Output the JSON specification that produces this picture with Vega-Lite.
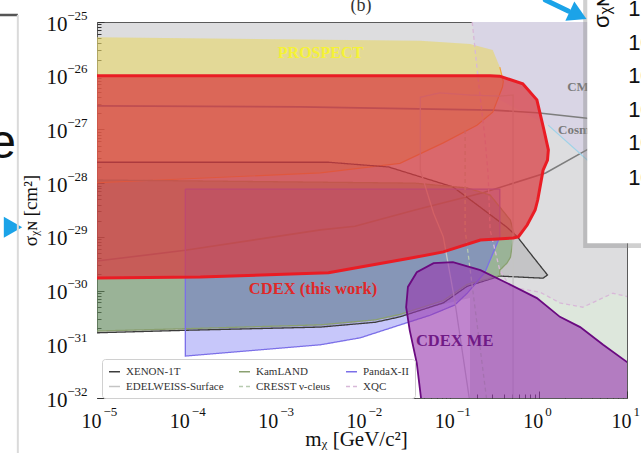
{
"$schema": "https://vega.github.io/schema/vega-lite/v6.json",
"width": 530, "height": 376,
"autosize": {"type": "none"},
"padding": {"left": 97, "top": 22, "right": 14, "bottom": 55},
"background": "white",
"config": {"view": {"fill": "#dddddf", "stroke": "#5a5a5a", "strokeWidth": 1}, "axis": {"grid": false, "domain": false}, "font": "Liberation Serif"},
"resolve": {"axis": {"x": "independent", "y": "independent"}},
"data": {"values": [
{"g":"lav","i":0,"x":0.177,"y":1.2e-25},{"g":"lav","i":1,"x":12,"y":1.2e-25},{"g":"lav","i":2,"x":12,"y":6.03e-29},{"g":"lav","i":3,"x":3.55,"y":2.69e-28},{"g":"lav","i":4,"x":1.28,"y":1.2e-27},{"g":"lav","i":5,"x":0.363,"y":3.55e-27},{"g":"lav","i":6,"x":0.219,"y":5.37e-27},{"g":"lav","i":7,"x":0.196,"y":1.95e-26},
{"g":"green","i":0,"x":1.04,"y":9.33e-31},{"g":"green","i":1,"x":1.74,"y":5.89e-31},{"g":"green","i":2,"x":3.16,"y":4.9e-31},{"g":"green","i":3,"x":6.92,"y":8.91e-31},{"g":"green","i":4,"x":12,"y":7.24e-31},{"g":"green","i":5,"x":12,"y":8e-33},{"g":"green","i":6,"x":1.04,"y":8e-33},
{"g":"white","i":0,"x":8e-6,"y":1.62e-31},{"g":"white","i":1,"x":1e-4,"y":1.82e-31},{"g":"white","i":2,"x":3.39e-3,"y":2.09e-31},{"g":"white","i":3,"x":2.69e-2,"y":3.24e-31},{"g":"white","i":4,"x":7.59e-2,"y":5.37e-31},{"g":"white","i":5,"x":0.167,"y":7.24e-31},{"g":"white","i":6,"x":0.167,"y":8e-33},{"g":"white","i":7,"x":8e-6,"y":8e-33},
{"g":"PROSPECT","i":0,"x":8e-6,"y":5.25e-26},{"g":"PROSPECT","i":1,"x":4.57e-2,"y":4.47e-26},{"g":"PROSPECT","i":2,"x":0.167,"y":3.89e-26},{"g":"PROSPECT","i":3,"x":0.302,"y":3.02e-26},{"g":"PROSPECT","i":4,"x":0.363,"y":1.45e-26},{"g":"PROSPECT","i":5,"x":0.398,"y":7.76e-27},{"g":"PROSPECT","i":6,"x":0.389,"y":6.17e-27},{"g":"PROSPECT","i":7,"x":0.302,"y":2.09e-27},{"g":"PROSPECT","i":8,"x":0.2,"y":1.2e-27},{"g":"PROSPECT","i":9,"x":8.32e-2,"y":5.62e-28},{"g":"PROSPECT","i":10,"x":2.69e-2,"y":2.34e-28},{"g":"PROSPECT","i":11,"x":3.39e-3,"y":1.55e-28},{"g":"PROSPECT","i":12,"x":8e-6,"y":1e-28},
{"g":"pros_edge","i":0,"x":0.363,"y":1.45e-26},{"g":"pros_edge","i":1,"x":0.398,"y":7.76e-27},{"g":"pros_edge","i":2,"x":0.389,"y":6.17e-27},{"g":"pros_edge","i":3,"x":0.302,"y":2.09e-27},{"g":"pros_edge","i":4,"x":0.2,"y":1.2e-27},{"g":"pros_edge","i":5,"x":8.32e-2,"y":5.62e-28},{"g":"pros_edge","i":6,"x":2.69e-2,"y":2.34e-28},{"g":"pros_edge","i":7,"x":3.39e-3,"y":1.55e-28},{"g":"pros_edge","i":8,"x":8e-6,"y":1e-28},
{"g":"XENON-1T","i":0,"x":8e-6,"y":2.45e-28},{"g":"XENON-1T","i":1,"x":4.17e-3,"y":2.45e-28},{"g":"XENON-1T","i":2,"x":2.0e-2,"y":2.0e-28},{"g":"XENON-1T","i":3,"x":0.107,"y":8.51e-29},{"g":"XENON-1T","i":4,"x":0.219,"y":3.55e-29},{"g":"XENON-1T","i":5,"x":0.437,"y":1.51e-29},{"g":"XENON-1T","i":6,"x":0.575,"y":1e-29},{"g":"XENON-1T","i":7,"x":0.871,"y":4.17e-30},{"g":"XENON-1T","i":8,"x":1.259,"y":1.95e-30},{"g":"XENON-1T","i":9,"x":1.122,"y":1.7e-30},{"g":"XENON-1T","i":10,"x":0.363,"y":1.86e-30},{"g":"XENON-1T","i":11,"x":0.155,"y":1.2e-30},{"g":"XENON-1T","i":12,"x":8.32e-2,"y":5.89e-31},{"g":"XENON-1T","i":13,"x":2.69e-2,"y":3.24e-31},{"g":"XENON-1T","i":14,"x":1.41e-2,"y":2.57e-31},{"g":"XENON-1T","i":15,"x":3.39e-3,"y":2.09e-31},{"g":"XENON-1T","i":16,"x":1e-4,"y":1.82e-31},{"g":"XENON-1T","i":17,"x":8e-6,"y":1.62e-31},{"g":"XENON-1T","i":18,"x":8e-6,"y":2.45e-28},
{"g":"KamLAND","i":0,"x":8e-6,"y":1.15e-28},{"g":"KamLAND","i":1,"x":3.98e-2,"y":1e-28},{"g":"KamLAND","i":2,"x":0.155,"y":8.13e-29},{"g":"KamLAND","i":3,"x":0.282,"y":6.03e-29},{"g":"KamLAND","i":4,"x":0.479,"y":2.04e-29},{"g":"KamLAND","i":5,"x":0.537,"y":1e-29},{"g":"KamLAND","i":6,"x":0.513,"y":8.71e-30},{"g":"KamLAND","i":7,"x":0.479,"y":4.17e-30},{"g":"KamLAND","i":8,"x":0.437,"y":3.24e-30},{"g":"KamLAND","i":9,"x":0.363,"y":2.4e-30},{"g":"KamLAND","i":10,"x":0.363,"y":1.9e-30},{"g":"KamLAND","i":11,"x":0.155,"y":1.3e-30},{"g":"KamLAND","i":12,"x":8.32e-2,"y":6.5e-31},{"g":"KamLAND","i":13,"x":2.69e-2,"y":3.6e-31},{"g":"KamLAND","i":14,"x":1.41e-2,"y":2.85e-31},{"g":"KamLAND","i":15,"x":3.39e-3,"y":2.3e-31},{"g":"KamLAND","i":16,"x":1e-4,"y":1.95e-31},{"g":"KamLAND","i":17,"x":8e-6,"y":1.75e-31},{"g":"KamLAND","i":18,"x":8e-6,"y":1.15e-28},
{"g":"PandaX-II","i":0,"x":1e-4,"y":7.76e-29},{"g":"PandaX-II","i":1,"x":0.363,"y":7.76e-29},{"g":"PandaX-II","i":2,"x":0.363,"y":1e-29},{"g":"PandaX-II","i":3,"x":0.339,"y":7.59e-30},{"g":"PandaX-II","i":4,"x":0.245,"y":2.14e-30},{"g":"PandaX-II","i":5,"x":0.155,"y":8.91e-31},{"g":"PandaX-II","i":6,"x":0.112,"y":5.37e-31},{"g":"PandaX-II","i":7,"x":5.89e-2,"y":3.47e-31},{"g":"PandaX-II","i":8,"x":2.69e-2,"y":2.29e-31},{"g":"PandaX-II","i":9,"x":9.55e-3,"y":1.32e-31},{"g":"PandaX-II","i":10,"x":3.39e-3,"y":9.8e-32},{"g":"PandaX-II","i":11,"x":1e-4,"y":6.03e-32},{"g":"PandaX-II","i":12,"x":1e-4,"y":7.76e-29},
{"g":"EDELWEISS-Surface","i":0,"x":0.167,"y":8e-33},{"g":"EDELWEISS-Surface","i":1,"x":0.112,"y":6.61e-31},{"g":"EDELWEISS-Surface","i":2,"x":8.32e-2,"y":1e-29},{"g":"EDELWEISS-Surface","i":3,"x":6.46e-2,"y":2.75e-29},{"g":"EDELWEISS-Surface","i":4,"x":4.57e-2,"y":1.74e-28},{"g":"EDELWEISS-Surface","i":5,"x":4.57e-2,"y":3.98e-27},{"g":"EDELWEISS-Surface","i":6,"x":7.59e-2,"y":4.79e-27},{"g":"EDELWEISS-Surface","i":7,"x":0.167,"y":4.37e-27},{"g":"EDELWEISS-Surface","i":8,"x":0.363,"y":4.17e-27},{"g":"EDELWEISS-Surface","i":9,"x":0.513,"y":4.37e-27},{"g":"EDELWEISS-Surface","i":10,"x":0.513,"y":8e-33},
{"g":"CRESST ν-cleus","i":0,"x":0.147,"y":9.77e-28},{"g":"CRESST ν-cleus","i":1,"x":0.147,"y":1.35e-29},{"g":"CRESST ν-cleus","i":2,"x":0.261,"y":8e-33},
{"g":"XQC","i":0,"x":0.177,"y":1e-25},{"g":"XQC","i":1,"x":0.207,"y":8.32e-27},{"g":"XQC","i":2,"x":0.248,"y":6.31e-28},{"g":"XQC","i":3,"x":0.268,"y":1.41e-28},{"g":"XQC","i":4,"x":0.282,"y":1.35e-29},{"g":"XQC","i":5,"x":0.363,"y":2.4e-30},{"g":"XQC","i":6,"x":0.479,"y":1.17e-30},{"g":"XQC","i":7,"x":1.04,"y":9.33e-31},{"g":"XQC","i":8,"x":1.74,"y":5.89e-31},{"g":"XQC","i":9,"x":3.16,"y":4.9e-31},{"g":"XQC","i":10,"x":6.92,"y":8.91e-31},{"g":"XQC","i":11,"x":12,"y":7.24e-31},
{"g":"band_top","i":0,"x":8e-6,"y":2.75e-27},{"g":"band_top","i":1,"x":2e-3,"y":2.63e-27},{"g":"band_top","i":2,"x":0.302,"y":2.29e-27},{"g":"band_top","i":3,"x":0.955,"y":2.04e-27},{"g":"band_top","i":4,"x":3.55,"y":1.62e-27},{"g":"band_top","i":5,"x":14,"y":1.45e-27},
{"g":"band_bot","i":0,"x":8e-6,"y":3.39e-30},{"g":"band_bot","i":1,"x":1e-4,"y":5.62e-30},{"g":"band_bot","i":2,"x":3.39e-3,"y":1.35e-29},{"g":"band_bot","i":3,"x":8.32e-3,"y":1.58e-29},{"g":"band_bot","i":4,"x":3.98e-2,"y":3.16e-29},{"g":"band_bot","i":5,"x":0.234,"y":6.61e-29},{"g":"band_bot","i":6,"x":1.2,"y":1.55e-28},{"g":"band_bot","i":7,"x":3.55,"y":4.2e-28},{"g":"band_bot","i":8,"x":14,"y":9.77e-28},
{"g":"cosmic","i":0,"x":1.28,"y":1.2e-27},{"g":"cosmic","i":1,"x":3.55,"y":2.69e-28},{"g":"cosmic","i":2,"x":12,"y":5e-29},
{"g":"CDEX","i":0,"x":8e-6,"y":1e-26},{"g":"CDEX","i":1,"x":2e-3,"y":1e-26},{"g":"CDEX","i":2,"x":0.282,"y":1e-26},{"g":"CDEX","i":3,"x":0.363,"y":9.8e-27},{"g":"CDEX","i":4,"x":0.661,"y":7.08e-27},{"g":"CDEX","i":5,"x":0.955,"y":3.55e-27},{"g":"CDEX","i":6,"x":1.148,"y":9.77e-28},{"g":"CDEX","i":7,"x":1.288,"y":4.17e-28},{"g":"CDEX","i":8,"x":1.259,"y":2.69e-28},{"g":"CDEX","i":9,"x":1.122,"y":1.74e-28},{"g":"CDEX","i":10,"x":0.977,"y":4.9e-29},{"g":"CDEX","i":11,"x":0.912,"y":3.16e-29},{"g":"CDEX","i":12,"x":0.741,"y":1.66e-29},{"g":"CDEX","i":13,"x":0.589,"y":1e-29},{"g":"CDEX","i":14,"x":0.513,"y":9.55e-30},{"g":"CDEX","i":15,"x":0.219,"y":8.71e-30},{"g":"CDEX","i":16,"x":8.32e-2,"y":5.25e-30},{"g":"CDEX","i":17,"x":3.72e-2,"y":4.07e-30},{"g":"CDEX","i":18,"x":4.17e-3,"y":2.14e-30},{"g":"CDEX","i":19,"x":1.48e-4,"y":1.78e-30},{"g":"CDEX","i":20,"x":8e-6,"y":1.7e-30},{"g":"CDEX","i":21,"x":8e-6,"y":1e-26},
{"g":"CDEXME","i":0,"x":4.9e-2,"y":5e-33},{"g":"CDEXME","i":1,"x":4.17e-2,"y":4.47e-32},{"g":"CDEXME","i":2,"x":3.47e-2,"y":1.82e-31},{"g":"CDEXME","i":3,"x":3.16e-2,"y":4.9e-31},{"g":"CDEXME","i":4,"x":3.31e-2,"y":1.17e-30},{"g":"CDEXME","i":5,"x":4.17e-2,"y":2.19e-30},{"g":"CDEXME","i":6,"x":6.46e-2,"y":3.24e-30},{"g":"CDEXME","i":7,"x":0.107,"y":3.39e-30},{"g":"CDEXME","i":8,"x":0.219,"y":2.4e-30},{"g":"CDEXME","i":9,"x":0.437,"y":1.38e-30},{"g":"CDEXME","i":10,"x":0.955,"y":7.24e-31},{"g":"CDEXME","i":11,"x":1.74,"y":3.24e-31},{"g":"CDEXME","i":12,"x":2.95,"y":2.09e-31},{"g":"CDEXME","i":13,"x":5.37,"y":9.77e-32},{"g":"CDEXME","i":14,"x":10,"y":4.68e-32},{"g":"CDEXME","i":15,"x":15,"y":3.5e-32},{"g":"CDEXME","i":16,"x":15,"y":5e-33},{"g":"CDEXME","i":17,"x":4.9e-2,"y":5e-33}
]},
"layer": [
{"transform": [{"filter": "datum.g==='lav'"}],
 "mark": {"type": "line", "fill": "#d9d5e5", "strokeOpacity": 0, "clip": true},
 "encoding": {
  "x": {"field": "x", "type": "quantitative", "scale": {"type": "log", "domain": [1e-5, 10]},
   "axis": {"orient": "bottom", "values": [1e-5,1e-4,1e-3,1e-2,1e-1,1,10], "labelExpr": "'10'", "ticks": false, "domain": false, "labelFont": "Liberation Serif", "labelFontSize": 20, "labelColor": "#111", "labelPadding": 13, "labelOffset": -6, "labelFlush": false, "labelOverlap": false, "title": "mᵪ [GeV/c²]", "titleFont": "Liberation Serif", "titleFontSize": 21, "titleFontWeight": "normal", "titleColor": "#111", "titleBaseline": "alphabetic", "titleY": 47, "titleX": 259}},
  "y": {"field": "y", "type": "quantitative", "scale": {"type": "log", "domain": [1e-32, 1e-25]},
   "axis": {"orient": "left", "values": [1e-32,1e-31,1e-30,1e-29,1e-28,1e-27,1e-26,1e-25], "labelExpr": "'10'", "ticks": false, "domain": false, "labelFont": "Liberation Serif", "labelFontSize": 21, "labelColor": "#111", "labelPadding": 30, "labelOffset": 2, "labelFlush": false, "labelOverlap": false, "title": "σᵪɴ [cm²]", "titleFont": "Liberation Serif", "titleFontSize": 19, "titleFontWeight": "normal", "titleColor": "#111", "titleAngle": 270, "titleAlign": "center", "titleBaseline": "bottom", "titleX": -57, "titleY": 188}},
  "order": {"field": "i", "type": "quantitative"}}},
{"transform": [{"filter": "datum.g==='green'"}],
 "mark": {"type": "line", "fill": "#dde7dc", "strokeOpacity": 0, "clip": true},
 "encoding": {
  "x": {"field": "x", "type": "quantitative", "axis": {"orient": "bottom", "values": [1e-5,1e-4,1e-3,1e-2,1e-1,1,10], "labelExpr": "format(round(log(datum.value)/LN10),'d')", "ticks": false, "domain": false, "labelFont": "Liberation Serif", "labelFontSize": 13, "labelColor": "#111", "labelAlign": "left", "labelPadding": 7, "labelOffset": 6, "labelFlush": false, "labelOverlap": false, "title": null}},
  "y": {"field": "y", "type": "quantitative", "axis": {"orient": "left", "values": [1e-32,1e-31,1e-30,1e-29,1e-28,1e-27,1e-26,1e-25], "labelExpr": "format(round(log(datum.value)/LN10),'d')", "ticks": false, "domain": false, "labelFont": "Liberation Serif", "labelFontSize": 13, "labelColor": "#111", "labelAlign": "right", "labelPadding": 10, "labelOffset": -7, "labelFlush": false, "labelOverlap": false, "title": null}},
  "order": {"field": "i", "type": "quantitative"}}},
{"transform": [{"filter": "datum.g==='white'"}],
 "mark": {"type": "line", "fill": "#ffffff", "strokeOpacity": 0, "clip": true},
 "encoding": {
  "x": {"field": "x", "type": "quantitative", "axis": {"orient": "bottom", "values": [1e-5,1e-4,1e-3,1e-2,1e-1,1,10], "labels": false, "ticks": true, "tickSize": 7, "offset": -7, "tickColor": "#333", "domain": false, "title": null}},
  "y": {"field": "y", "type": "quantitative", "axis": {"orient": "left", "values": [1e-32,1e-31,1e-30,1e-29,1e-28,1e-27,1e-26,1e-25], "labels": false, "ticks": true, "tickSize": 7, "offset": -7, "tickColor": "#333", "domain": false, "title": null}},
  "order": {"field": "i", "type": "quantitative"}}},
{"transform": [{"filter": "datum.g==='PROSPECT'"}],
 "mark": {"type": "line", "fill": "#e6d66a", "fillOpacity": 0.62, "strokeOpacity": 0, "clip": true},
 "encoding": {
  "x": {"field": "x", "type": "quantitative", "axis": {"orient": "bottom", "values": [2e-5,3e-5,4e-5,5e-5,6e-5,7e-5,8e-5,9e-5,2e-4,3e-4,4e-4,5e-4,6e-4,7e-4,8e-4,9e-4,2e-3,3e-3,4e-3,5e-3,6e-3,7e-3,8e-3,9e-3,2e-2,3e-2,4e-2,5e-2,6e-2,7e-2,8e-2,9e-2,0.2,0.3,0.4,0.5,0.6,0.7,0.8,0.9,2,3,4,5,6,7,8,9], "labels": false, "ticks": true, "tickSize": 4, "offset": -4, "tickColor": "#333", "domain": false, "title": null}},
  "y": {"field": "y", "type": "quantitative", "axis": {"orient": "left", "values": [2e-32,3e-32,4e-32,5e-32,6e-32,7e-32,8e-32,9e-32,2e-31,3e-31,4e-31,5e-31,6e-31,7e-31,8e-31,9e-31,2e-30,3e-30,4e-30,5e-30,6e-30,7e-30,8e-30,9e-30,2e-29,3e-29,4e-29,5e-29,6e-29,7e-29,8e-29,9e-29,2e-28,3e-28,4e-28,5e-28,6e-28,7e-28,8e-28,9e-28,2e-27,3e-27,4e-27,5e-27,6e-27,7e-27,8e-27,9e-27,2e-26,3e-26,4e-26,5e-26,6e-26,7e-26,8e-26,9e-26], "labels": false, "ticks": true, "tickSize": 4, "offset": -4, "tickColor": "#333", "domain": false, "title": null}},
  "order": {"field": "i", "type": "quantitative"}}},
{"transform": [{"filter": "datum.g==='XENON-1T'"}],
 "mark": {"type": "line", "fill": "#7a7a7a", "fillOpacity": 0.25, "strokeOpacity": 0, "clip": true},
 "encoding": {"x": {"field": "x", "type": "quantitative", "axis": null}, "y": {"field": "y", "type": "quantitative", "axis": null}, "order": {"field": "i", "type": "quantitative"}}},
{"transform": [{"filter": "datum.g==='KamLAND'"}],
 "mark": {"type": "line", "fill": "#5f9a55", "fillOpacity": 0.42, "strokeOpacity": 0, "clip": true},
 "encoding": {"x": {"field": "x", "type": "quantitative", "axis": null}, "y": {"field": "y", "type": "quantitative", "axis": null}, "order": {"field": "i", "type": "quantitative"}}},
{"transform": [{"filter": "datum.g==='PandaX-II'"}],
 "mark": {"type": "line", "fill": "#6464f0", "fillOpacity": 0.36, "strokeOpacity": 0, "clip": true},
 "encoding": {"x": {"field": "x", "type": "quantitative", "axis": null}, "y": {"field": "y", "type": "quantitative", "axis": null}, "order": {"field": "i", "type": "quantitative"}}},
{"transform": [{"filter": "datum.g==='band_top' || datum.g==='band_bot'"}],
 "mark": {"type": "line", "stroke": "#7d7d7d", "strokeWidth": 1.6, "clip": true},
 "encoding": {"x": {"field": "x", "type": "quantitative", "axis": null}, "y": {"field": "y", "type": "quantitative", "axis": null}, "detail": {"field": "g"}, "order": {"field": "i", "type": "quantitative"}}},
{"transform": [{"filter": "datum.g==='pros_edge'"}],
 "mark": {"type": "line", "stroke": "#f2a33a", "strokeWidth": 1.2, "clip": true},
 "encoding": {"x": {"field": "x", "type": "quantitative", "axis": null}, "y": {"field": "y", "type": "quantitative", "axis": null}, "order": {"field": "i", "type": "quantitative"}}},
{"transform": [{"filter": "datum.g==='cosmic'"}],
 "mark": {"type": "line", "stroke": "#9fd3e8", "strokeWidth": 1.2, "clip": true},
 "encoding": {"x": {"field": "x", "type": "quantitative", "axis": null}, "y": {"field": "y", "type": "quantitative", "axis": null}, "order": {"field": "i", "type": "quantitative"}}},
{"transform": [{"filter": {"field": "g", "oneOf": ["XENON-1T","KamLAND","PandaX-II","EDELWEISS-Surface","CRESST ν-cleus","XQC"]}}],
 "mark": {"type": "line", "strokeWidth": 1.3, "clip": true},
 "encoding": {
  "x": {"field": "x", "type": "quantitative", "axis": null},
  "y": {"field": "y", "type": "quantitative", "axis": null},
  "color": {"field": "g", "type": "nominal", "scale": {"domain": ["XENON-1T","KamLAND","PandaX-II","EDELWEISS-Surface","CRESST ν-cleus","XQC"], "range": ["#3c3c3c","#8aa070","#7b6fe8","#c4c4c4","#b7cbb0","#d8b8d8"]},
   "legend": {"title": null, "orient": "none", "legendX": 5, "legendY": 337, "columns": 3, "direction": "horizontal", "symbolType": "stroke", "symbolSize": 120, "symbolStrokeWidth": 1.5, "labelFont": "Liberation Serif", "labelFontSize": 11, "labelColor": "#333", "fillColor": "rgba(255,255,255,0.82)", "strokeColor": "#d0d0d0", "padding": 6, "cornerRadius": 3, "rowPadding": 3, "columnPadding": 12, "labelOffset": 5, "labelLimit": 200}},
  "strokeDash": {"field": "g", "type": "nominal", "scale": {"domain": ["XENON-1T","KamLAND","PandaX-II","EDELWEISS-Surface","CRESST ν-cleus","XQC"], "range": [[1,0],[1,0],[1,0],[1,0],[4,3],[4,3]]},
   "legend": {"title": null, "orient": "none", "legendX": 5, "legendY": 337, "columns": 3, "direction": "horizontal", "symbolType": "stroke", "symbolSize": 120, "symbolStrokeWidth": 1.5, "labelFont": "Liberation Serif", "labelFontSize": 11, "labelColor": "#333", "fillColor": "rgba(255,255,255,0.82)", "strokeColor": "#d0d0d0", "padding": 6, "cornerRadius": 3, "rowPadding": 3, "columnPadding": 12, "labelOffset": 5, "labelLimit": 200}},
  "order": {"field": "i", "type": "quantitative"}}},
{"transform": [{"filter": "datum.g==='CDEX'"}],
 "mark": {"type": "line", "fill": "#d83a40", "fillOpacity": 0.72, "stroke": "#ea1c24", "strokeWidth": 3, "clip": true},
 "encoding": {"x": {"field": "x", "type": "quantitative", "axis": null}, "y": {"field": "y", "type": "quantitative", "axis": null}, "order": {"field": "i", "type": "quantitative"}}},
{"transform": [{"filter": "datum.g==='CDEXME'"}],
 "mark": {"type": "line", "fill": "#9a3ab0", "fillOpacity": 0.62, "stroke": "#6a0a80", "strokeWidth": 1.8, "clip": true},
 "encoding": {"x": {"field": "x", "type": "quantitative", "axis": null}, "y": {"field": "y", "type": "quantitative", "axis": null}, "order": {"field": "i", "type": "quantitative"}}},
{"data": {"values": [{"x": 3.39e-3, "y": 2.63e-26, "t": "PROSPECT"}]},
 "mark": {"type": "text", "font": "Liberation Serif", "fontWeight": "bold", "fontSize": 16, "color": "#f5f236", "align": "center", "baseline": "middle"},
 "encoding": {"x": {"field": "x", "type": "quantitative", "axis": null}, "y": {"field": "y", "type": "quantitative", "axis": null}, "text": {"field": "t"}}},
{"data": {"values": [{"x": 2.79e-3, "y": 1.07e-30, "t": "CDEX (this work)"}]},
 "mark": {"type": "text", "font": "Liberation Serif", "fontWeight": "bold", "fontSize": 16.5, "color": "#e02828", "align": "center", "baseline": "middle"},
 "encoding": {"x": {"field": "x", "type": "quantitative", "axis": null}, "y": {"field": "y", "type": "quantitative", "axis": null}, "text": {"field": "t"}}},
{"data": {"values": [{"x": 0.112, "y": 1.15e-31, "t": "CDEX ME"}]},
 "mark": {"type": "text", "font": "Liberation Serif", "fontWeight": "bold", "fontSize": 16.5, "color": "#701a86", "align": "center", "baseline": "middle"},
 "encoding": {"x": {"field": "x", "type": "quantitative", "axis": null}, "y": {"field": "y", "type": "quantitative", "axis": null}, "text": {"field": "t"}}},
{"data": {"values": [{"x": 2.1, "y": 6.17e-27, "t": "CMB"}, {"x": 1.66, "y": 9.77e-28, "t": "Cosmic"}]},
 "mark": {"type": "text", "font": "Liberation Serif", "fontWeight": "bold", "fontSize": 13, "color": "#7a7a7a", "align": "left", "baseline": "middle"},
 "encoding": {"x": {"field": "x", "type": "quantitative", "axis": null}, "y": {"field": "y", "type": "quantitative", "axis": null}, "text": {"field": "t"}}},
{"data": {"values": [{"x": 3.19, "x2": 100, "y": 6.17e-30, "y2": 1e-24}]},
 "mark": {"type": "rect", "fill": "#8a8a8a", "opacity": 0.4},
 "encoding": {"x": {"field": "x", "type": "quantitative", "axis": null}, "x2": {"field": "x2"}, "y": {"field": "y", "type": "quantitative", "axis": null}, "y2": {"field": "y2"}}},
{"data": {"values": [{"x": 3.55, "x2": 100, "y": 7.59e-30, "y2": 1e-24}]},
 "mark": {"type": "rect", "fill": "#ffffff"},
 "encoding": {"x": {"field": "x", "type": "quantitative", "axis": null}, "x2": {"field": "x2"}, "y": {"field": "y", "type": "quantitative", "axis": null}, "y2": {"field": "y2"}}},
{"data": {"values": [{"x": 5.24, "y": 7.76e-26, "t": "σᵪɴ"}]},
 "mark": {"type": "text", "font": "Liberation Sans", "fontSize": 22, "color": "#111", "align": "left", "baseline": "middle", "angle": 270},
 "encoding": {"x": {"field": "x", "type": "quantitative", "axis": null}, "y": {"field": "y", "type": "quantitative", "axis": null}, "text": {"field": "t"}}},
{"data": {"values": [{"x": 10.3, "y": 1.74e-25, "t": "1"}, {"x": 10.3, "y": 4.07e-26, "t": "10"}, {"x": 10.3, "y": 9.77e-27, "t": "10"}, {"x": 10.3, "y": 2.29e-27, "t": "10"}, {"x": 10.3, "y": 5.62e-28, "t": "10"}, {"x": 10.3, "y": 1.23e-28, "t": "10"}]},
 "mark": {"type": "text", "font": "Liberation Sans", "fontSize": 22, "color": "#111", "align": "left", "baseline": "middle"},
 "encoding": {"x": {"field": "x", "type": "quantitative", "axis": null}, "y": {"field": "y", "type": "quantitative", "axis": null}, "text": {"field": "t"}}},
{"data": {"values": [{"x": 1.21e-6, "y": 2.95e-28, "t": "e"}]},
 "mark": {"type": "text", "font": "Liberation Sans", "fontSize": 48, "color": "#111", "align": "right", "baseline": "alphabetic"},
 "encoding": {"x": {"field": "x", "type": "quantitative", "axis": null}, "y": {"field": "y", "type": "quantitative", "axis": null}, "text": {"field": "t"}}},
{"data": {"values": [{"x": 9.77e-3, "y": 1.58e-25, "t": "(b)"}]},
 "mark": {"type": "text", "font": "Liberation Serif", "fontSize": 18, "color": "#333", "align": "center", "baseline": "alphabetic"},
 "encoding": {"x": {"field": "x", "type": "quantitative", "axis": null}, "y": {"field": "y", "type": "quantitative", "axis": null}, "text": {"field": "t"}}},
{"data": {"values": [{"x": 1.19, "y": 2.57e-25, "i": 0}, {"x": 1.54, "y": 2.09e-25, "i": 1}, {"x": 2.16, "y": 1.6e-25, "i": 2}]},
 "mark": {"type": "line", "stroke": "#1ba3e8", "strokeWidth": 5, "strokeCap": "round"},
 "encoding": {"x": {"field": "x", "type": "quantitative", "axis": null}, "y": {"field": "y", "type": "quantitative", "axis": null}, "order": {"field": "i", "type": "quantitative"}}},
{"data": {"values": [{"x": 2.8, "y": 1.35e-25, "a": 25}, {"x": 1.12e-6, "y": 1.51e-29, "a": 0}]},
 "mark": {"type": "point", "shape": "triangle-right", "filled": true, "color": "#1ba3e8", "opacity": 1, "size": 450},
 "encoding": {"x": {"field": "x", "type": "quantitative", "axis": null}, "y": {"field": "y", "type": "quantitative", "axis": null}, "angle": {"field": "a", "type": "quantitative", "scale": null}}},
{"data": {"values": [{"x": 1e-7, "x2": 1.27e-6, "y": 1.35e-25}]},
 "mark": {"type": "rule", "stroke": "#555", "strokeWidth": 2.5},
 "encoding": {"x": {"field": "x", "type": "quantitative", "axis": null}, "x2": {"field": "x2"}, "y": {"field": "y", "type": "quantitative", "axis": null}}},
{"data": {"values": [{"x": 1.27e-6, "y": 1.35e-25, "y2": 1e-34}]},
 "mark": {"type": "rule", "stroke": "#dadada", "strokeWidth": 2},
 "encoding": {"x": {"field": "x", "type": "quantitative", "axis": null}, "y": {"field": "y", "type": "quantitative", "axis": null}, "y2": {"field": "y2"}}}
]
}
